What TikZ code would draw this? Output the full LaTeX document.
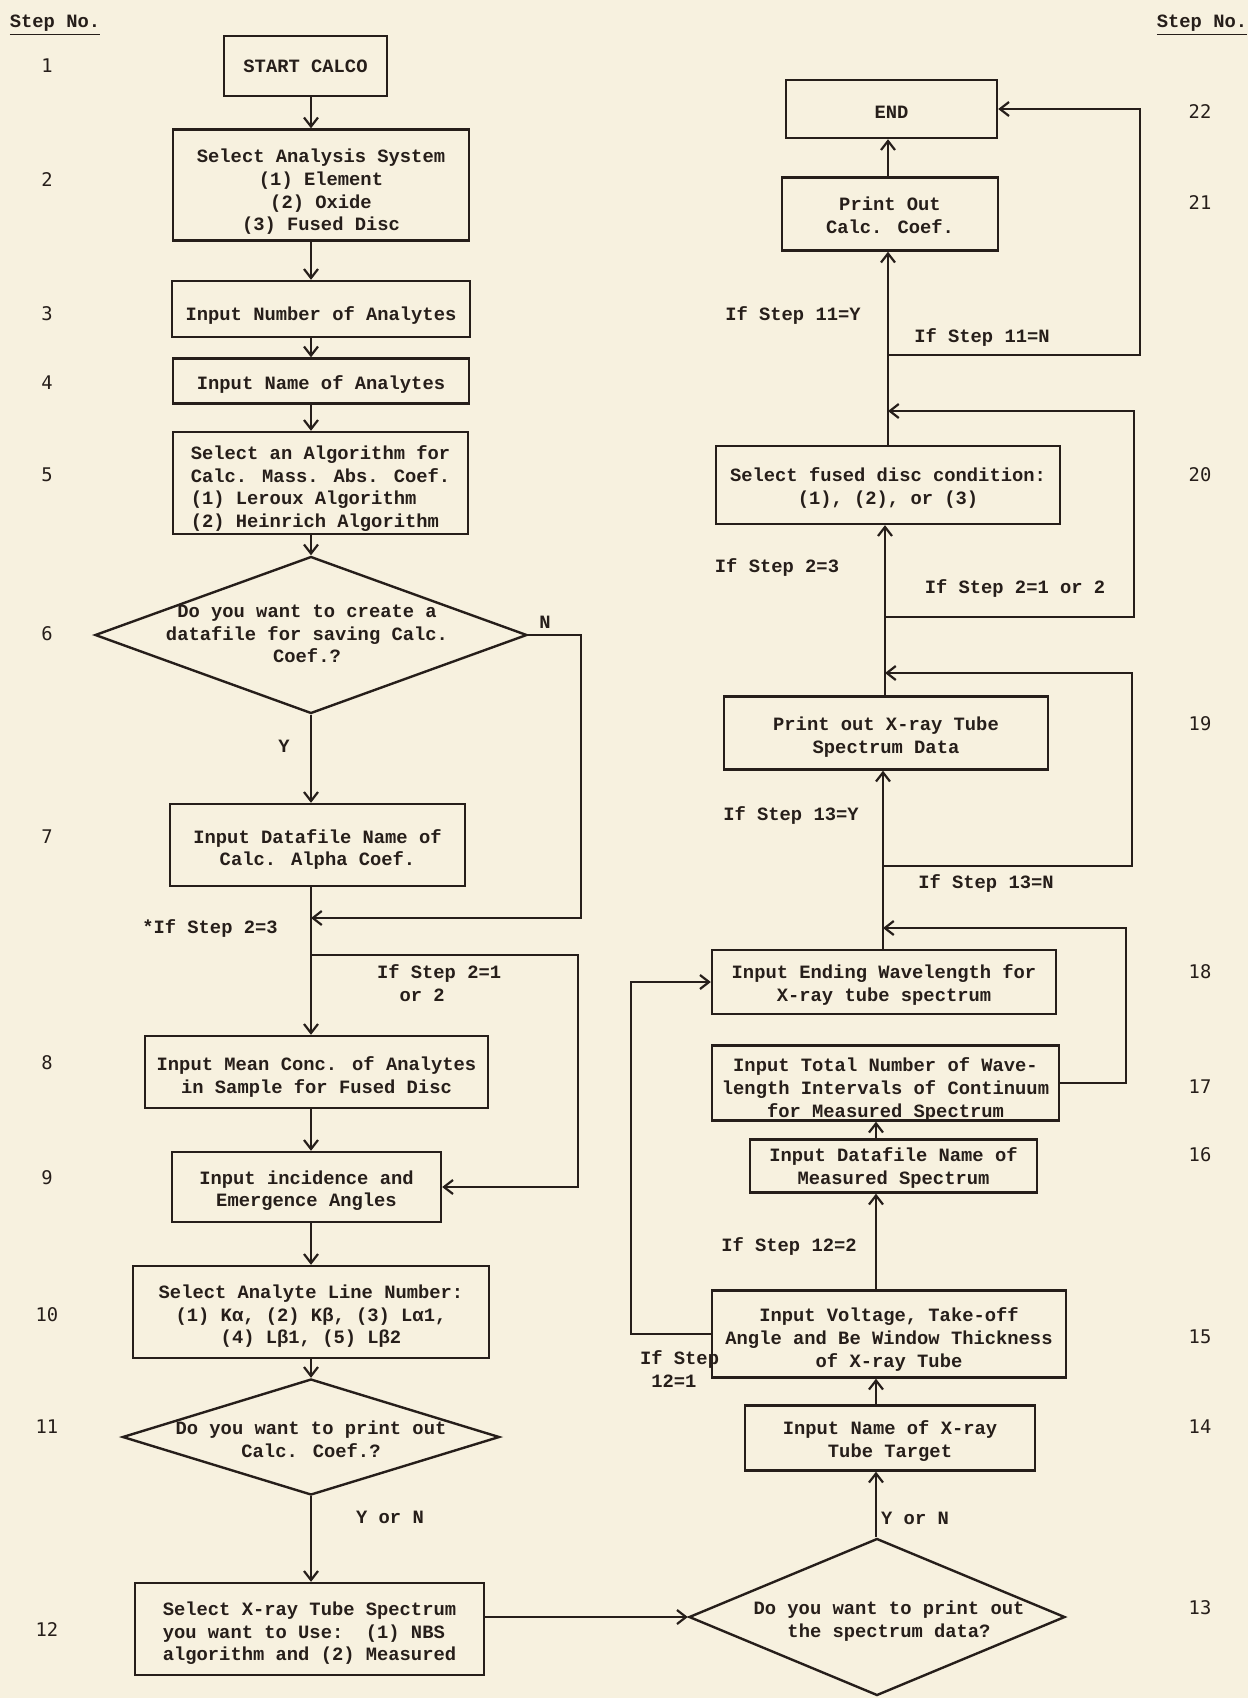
\documentclass[tikz,border=0pt]{standalone}
\usepackage{fontspec}
\newfontfamily\tw{Liberation Mono}
\newfontfamily\nf{DejaVu Sans Mono}
\usetikzlibrary{shapes.geometric,arrows.meta}
\definecolor{paper}{RGB}{247,241,223}
\definecolor{ink}{RGB}{38,30,26}
\begin{document}
\begin{tikzpicture}[x=0.5pt,y=-0.5pt,
  every node/.style={text=ink, font=\tw\bfseries\fontsize{9.4}{11.35}\selectfont},
  box/.style={draw=ink, line width=1.2pt, inner sep=0pt},
  txt/.style={align=center, inner sep=0pt},
  dia/.style={draw=ink, line width=1.2pt, shape=diamond, inner sep=0pt},
  lbl/.style={font=\tw\bfseries\fontsize{9.4}{11.35}\selectfont},
  num/.style={font=\nf\fontsize{9.4}{11.35}\selectfont},
  conn/.style={draw=ink, line width=1.1pt},
  arr/.style={conn, -{Straight Barb[length=4.5pt,width=7pt]}},
]
\fill[paper] (0,0) rectangle (1248,1698);
\useasboundingbox (0,0) rectangle (1248,1698);

% headers
\node[lbl] (hL) at (55,25) {\underline{Step No.}};
\node[lbl] (hR) at (1202,25) {\underline{Step No.}};

% ---------------- left column ----------------
\node[box, minimum width=81.5pt, minimum height=30pt] (n1) at (305.5,66) {};
\node[txt] (t1) at (n1.center) {START CALCO};
\node[box, minimum width=148pt, minimum height=55.5pt] (n2) at (321,185) {};
\node[txt, yshift=-3.5pt] (t2) at (n2.center) {Select Analysis System\\(1) Element\\(2) Oxide\\(3) Fused Disc};
\node[box, minimum width=149pt, minimum height=28pt] (n3) at (321,309) {};
\node[txt, yshift=-3pt] (t3) at (n3.center) {Input Number of Analytes};
\node[box, minimum width=148pt, minimum height=22.5pt] (n4) at (321,381) {};
\node[txt, yshift=-1.6pt] (t4) at (n4.center) {Input Name of Analytes};
\node[box, minimum width=147.5pt, minimum height=51pt] (n5) at (320.5,483) {};
\node[txt, align=left, yshift=-2.7pt] (t5) at (n5.center) {Select an Algorithm for\\Calc. Mass. Abs. Coef.\\(1) Leroux Algorithm\\(2) Heinrich Algorithm};
\node[dia, minimum width=216pt, minimum height=78.5pt] (d6) at (311,635) {};
\node[txt] (t6) at (307,634) {Do you want to create a\\datafile for saving Calc.\\Coef.?};
\node[box, minimum width=147.5pt, minimum height=41pt] (n7) at (317.5,845) {};
\node[txt, yshift=-2.2pt] (t7) at (n7.center) {Input Datafile Name of\\Calc. Alpha Coef.};
\node[box, minimum width=171.5pt, minimum height=36pt] (n8) at (316.5,1072) {};
\node[txt, yshift=-2.5pt] (t8) at (n8.center) {Input Mean Conc. of Analytes\\in Sample for Fused Disc};
\node[box, minimum width=134.5pt, minimum height=35pt] (n9) at (306.5,1187) {};
\node[txt, yshift=-1.8pt] (t9) at (n9.center) {Input incidence and\\Emergence Angles};
\node[box, minimum width=178pt, minimum height=46pt] (n10) at (311,1312) {};
\node[txt, yshift=-2.2pt] (t10) at (n10.center) {Select Analyte Line Number:\\(1) Kα, (2) Kβ, (3) Lα1,\\(4) Lβ1, (5) Lβ2};
\node[dia, minimum width=188.5pt, minimum height=58pt] (d11) at (311,1437) {};
\node[txt] (t11) at (311,1439) {Do you want to print out\\Calc. Coef.?};
\node[box, minimum width=174.5pt, minimum height=46pt] (n12) at (309.5,1629) {};
\node[txt, align=left, yshift=-2.2pt] (t12) at (n12.center) {Select X-ray Tube Spectrum\\you want to Use:\ \ (1) NBS\\algorithm and (2) Measured};

% ---------------- right column ----------------
\node[box, minimum width=105.5pt, minimum height=29pt] (n22) at (891.5,109) {};
\node[txt, yshift=-1.6pt] (t22) at (n22.center) {END};
\node[box, minimum width=108pt, minimum height=36.5pt] (n21) at (890,214) {};
\node[txt, yshift=-0.6pt] (t21) at (n21.center) {Print Out\\Calc. Coef.};
\node[box, minimum width=172pt, minimum height=39pt] (n20) at (888,485) {};
\node[txt, yshift=-1.4pt] (t20) at (n20.center) {Select fused disc condition:\\(1), (2), or (3)};
\node[box, minimum width=162pt, minimum height=36.5pt] (n19) at (886,733) {};
\node[txt, yshift=-2.2pt] (t19) at (n19.center) {Print out X-ray Tube\\Spectrum Data};
\node[box, minimum width=172pt, minimum height=32pt] (n18) at (884,982) {};
\node[txt, yshift=-1.6pt] (t18) at (n18.center) {Input Ending Wavelength for\\X-ray tube spectrum};
\node[box, minimum width=173.5pt, minimum height=37.5pt] (n17) at (885.5,1083) {};
\node[txt, yshift=-3.2pt] (t17) at (n17.center) {Input Total Number of Wave-\\length Intervals of Continuum\\for Measured Spectrum};
\node[box, minimum width=143.5pt, minimum height=26.5pt] (n16) at (893.5,1166) {};
\node[txt, yshift=-1.1pt] (t16) at (n16.center) {Input Datafile Name of\\Measured Spectrum};
\node[box, minimum width=177pt, minimum height=43.5pt] (n15) at (889,1334) {};
\node[txt, yshift=-2.7pt] (t15) at (n15.center) {Input Voltage, Take-off\\Angle and Be Window Thickness\\of X-ray Tube};
\node[box, minimum width=145pt, minimum height=32.5pt] (n14) at (890,1438) {};
\node[txt, yshift=-1.4pt] (t14) at (n14.center) {Input Name of X-ray\\Tube Target};
\node[dia, minimum width=188pt, minimum height=78.5pt] (d13) at (877,1617) {};
\node[txt] (t13) at (889,1621) {Do you want to print out\\the spectrum data?};

% ---------------- step numbers ----------------
\foreach \n/\y in {1/66,2/180,3/314,4/383,5/475,6/634,7/837,8/1063,9/1178,10/1315,11/1427,12/1630}
  \node[num] (sl\n) at (47,\y) {\n};
\foreach \n/\y in {22/112,21/203,20/475,19/724,18/972,17/1087,16/1155,15/1337,14/1427,13/1608}
  \node[num] (sr\n) at (1200,\y) {\n};

% ---------------- coordinates ----------------
\coordinate (cL) at (311,0);
\coordinate (cN) at (581,918);
\coordinate (j1) at (311,918);
\coordinate (b1) at (311,955);
\coordinate (xB) at (578,955);
\coordinate (cR4) at (876,0);
\coordinate (xL) at (631,0);
\coordinate (cR3) at (883,0);
\coordinate (j3) at (883,928);
\coordinate (xR3) at (1126,0);
\coordinate (b3) at (883,866);
\coordinate (cR2) at (885,0);
\coordinate (j4) at (885,673);
\coordinate (xR2) at (1132,0);
\coordinate (b2) at (885,617);
\coordinate (cR1) at (888,0);
\coordinate (j5) at (888,411);
\coordinate (xR1) at (1134,0);
\coordinate (b1r) at (888,355);
\coordinate (xR0) at (1140,0);

% ---------------- left connectors ----------------
\draw[arr] (n1.south -| cL) -- (n2.north -| cL);
\draw[arr] (n2.south -| cL) -- (n3.north -| cL);
\draw[arr] (n3.south -| cL) -- (n4.north -| cL);
\draw[arr] (n4.south -| cL) -- (n5.north -| cL);
\draw[arr] (n5.south -| cL) -- (d6.north);
\draw[arr] (d6.south) -- (n7.north -| d6.south);
\draw[arr] (d6.east) -| (cN) -- (j1);
\draw[arr] (n7.south -| cL) -- (n8.north -| cL);
\draw[arr] (b1) -- (xB) |- (n9.east);
\draw[arr] (n8.south -| cL) -- (n9.north -| cL);
\draw[arr] (n9.south -| cL) -- (n10.north -| cL);
\draw[arr] (n10.south -| cL) -- (d11.north);
\draw[arr] (d11.south) -- (n12.north -| d11.south);
\draw[arr] (n12.east |- d13.west) -- (d13.west);

% ---------------- right connectors ----------------
\draw[arr] (d13.north -| cR4) -- (n14.south -| cR4);
\draw[arr] (n14.north -| cR4) -- (n15.south -| cR4);
\draw[arr] (n15.north -| cR4) -- (n16.south -| cR4);
\draw[arr] (n16.north -| cR4) -- (n17.south -| cR4);
\draw[arr] (n15.west) -- (n15.west -| xL) |- (n18.west);
\draw[arr] (n17.east) -- (n17.east -| xR3) |- (j3);
\draw[arr] (n18.north -| cR3) -- (n19.south -| cR3);
\draw[arr] (b3) -- (b3 -| xR2) |- (j4);
\draw[arr] (n19.north -| cR2) -- (n20.south -| cR2);
\draw[arr] (b2) -- (b2 -| xR1) |- (j5);
\draw[arr] (n20.north -| cR1) -- (n21.south -| cR1);
\draw[arr] (b1r) -- (b1r -| xR0) |- (n22.east);
\draw[arr] (n21.north -| cR1) -- (n22.south -| cR1);

% ---------------- labels ----------------
\node[lbl] (lN) at (545,622) {N};
\node[lbl] (lY) at (284,746) {Y};
\node[lbl] (l23a) at (210,928) {*If Step 2=3};
\node[lbl, align=left, anchor=west] (l212a) at (370,983) {If Step 2=1\\\ \ or 2};
\node[lbl] (lYN1) at (390,1517) {Y or N};
\node[lbl] (l11y) at (793,315) {If Step 11=Y};
\node[lbl] (l11n) at (982,337) {If Step 11=N};
\node[lbl] (l23b) at (777,567) {If Step 2=3};
\node[lbl] (l212b) at (1015,588) {If Step 2=1 or 2};
\node[lbl] (l13y) at (791,815) {If Step 13=Y};
\node[lbl] (l13n) at (986,883) {If Step 13=N};
\node[lbl] (l122) at (789,1246) {If Step 12=2};
\node[lbl, align=left, anchor=west] (l121) at (633,1369) {If Step\\\ 12=1};
\node[lbl] (lYN2) at (915,1518) {Y or N};
\end{tikzpicture}
\end{document}
